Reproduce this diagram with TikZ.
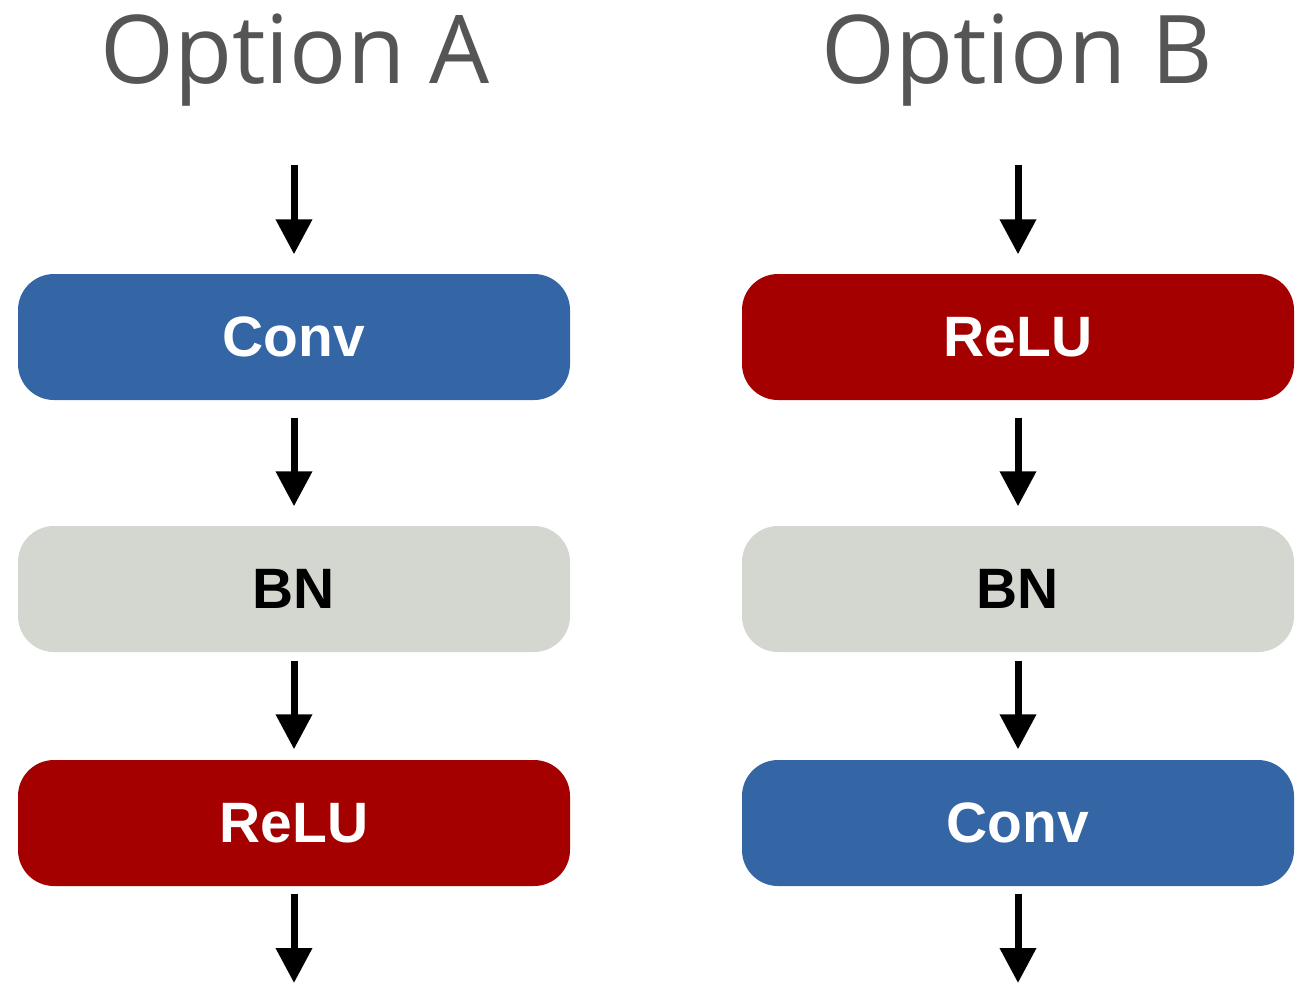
\documentclass[tikz,border=0pt]{standalone}
\usepackage{fontspec}
\setmainfont{Liberation Sans}
\newfontfamily\titlefont{Open Sans}
\usetikzlibrary{arrows.meta}
\usetikzlibrary{positioning}

\definecolor{convblue}{HTML}{3465A4}
\definecolor{relured}{HTML}{A40000}
\definecolor{bngray}{HTML}{D3D7CF}
\definecolor{titlegray}{HTML}{555555}

\tikzset{
  layer/.style={rectangle,rounded corners=0.36cm,minimum width=5.52cm,minimum height=1.26cm,inner sep=0pt,font=\fontsize{16.2}{16.2}\selectfont\bfseries},
  flow/.style={-{Triangle[length=0.35cm,width=0.35cm]},line width=0.07cm},
  heading/.style={font=\titlefont\fontsize{27}{27}\selectfont,text=titlegray,anchor=base}
}

\begin{document}
\begin{tikzpicture}
\useasboundingbox (0,0) rectangle (13.1,-9.83);

% titles
\node[heading] (titleA) at (2.95,-0.83) {Option A};
\node[heading] (titleB) at (10.17,-0.83) {Option B};

% option A
\node[layer,fill=convblue,text=white] (convA) at (2.94,-3.37) {Conv};
\node[layer,fill=bngray,text=black] (bnA) at (2.94,-5.89) {BN};
\node[layer,fill=relured,text=white] (reluA) at (2.94,-8.23) {ReLU};
\coordinate (inA) at (2.94,-1.65);
\coordinate (outA) at (2.94,-9.83);

% option B
\node[layer,fill=relured,text=white] (reluB) at (10.18,-3.37) {ReLU};
\node[layer,fill=bngray,text=black] (bnB) at (10.18,-5.89) {BN};
\node[layer,fill=convblue,text=white] (convB) at (10.18,-8.23) {Conv};
\coordinate (inB) at (10.18,-1.65);
\coordinate (outB) at (10.18,-9.83);

% arrows
\draw[flow,shorten >=0.19cm] (inA) -- (convA);
\draw[flow,shorten <=0.17cm,shorten >=0.19cm] (convA) -- (bnA);
\draw[flow,shorten <=0.08cm,shorten >=0.10cm] (bnA) -- (reluA);
\draw[flow,shorten <=0.07cm] (reluA) -- (outA);

\draw[flow,shorten >=0.19cm] (inB) -- (reluB);
\draw[flow,shorten <=0.17cm,shorten >=0.19cm] (reluB) -- (bnB);
\draw[flow,shorten <=0.08cm,shorten >=0.10cm] (bnB) -- (convB);
\draw[flow,shorten <=0.07cm] (convB) -- (outB);

\end{tikzpicture}
\end{document}
